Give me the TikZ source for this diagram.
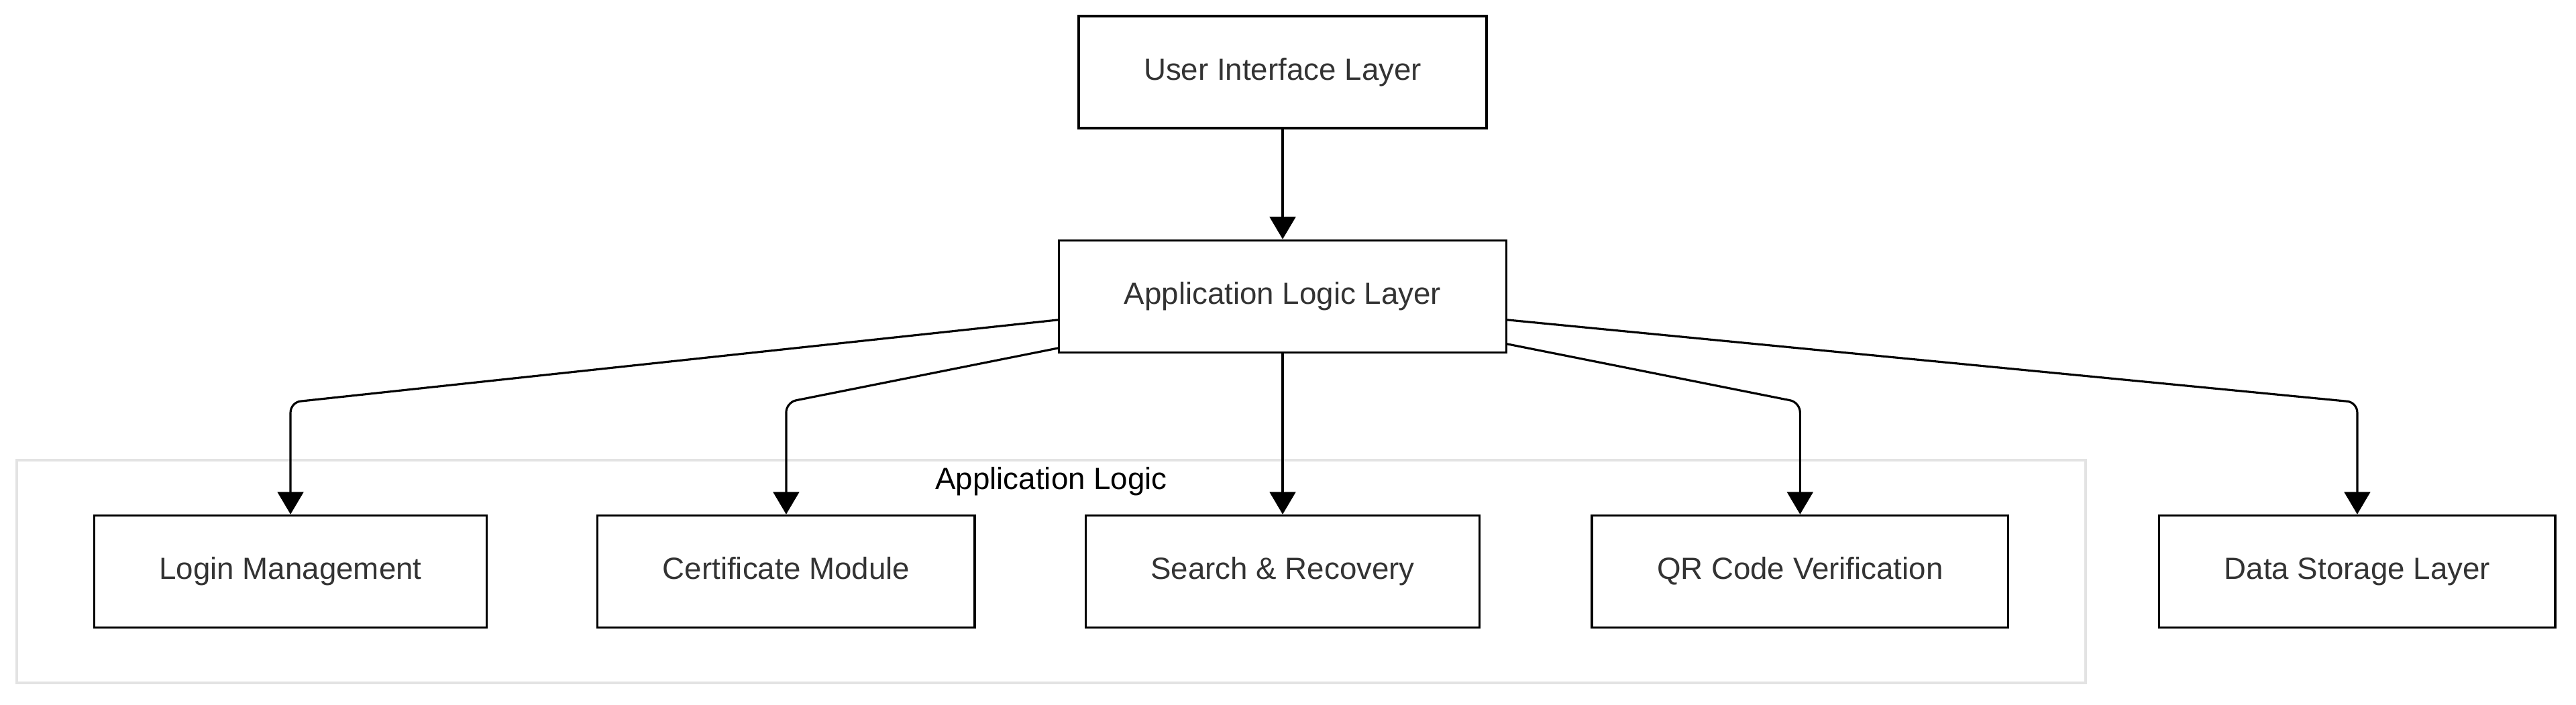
\documentclass[tikz,border=0pt]{standalone}
\usepackage{fontspec}
\setmainfont{Liberation Sans}
\usepackage{xcolor}
\usetikzlibrary{arrows.meta,positioning,fit,calc}
\definecolor{txtgray}{HTML}{333333}
\definecolor{grpline}{HTML}{E3E3E3}

\begin{document}
\begin{tikzpicture}[
  node distance=1.62cm,
  box/.style={draw, line width=0.9pt, inner xsep=0.97cm, minimum height=1.67cm,
              text height=9.5pt, text depth=2.8pt,
              font=\fontsize{13pt}{15pt}\selectfont, text=txtgray},
  grp/.style={draw=grpline, line width=1pt, inner xsep=1.14cm, inner ysep=0.81cm},
  grptitle/.style={font=\fontsize{13pt}{15pt}\selectfont},
  arr/.style={-{Triangle[length=9.5pt, width=11pt]}, line width=0.9pt,
              rounded corners=0.15cm}
]
  \useasboundingbox (0,0) rectangle (38.4,-10.5);

  \node[box] (ui) at (19.12,-1.075) {User Interface Layer};
  \node[box, below=1.64cm of ui]   (app)    {Application Logic Layer};
  \node[box, below=2.40cm of app]  (search) {Search \& Recovery};
  \node[box, left=of search]       (cert)   {Certificate Module};
  \node[box, left=of cert]         (login)  {Login Management};
  \node[box, right=1.64cm of search] (qr)   {QR Code Verification};
  \node[box, right=2.22cm of qr]   (store)  {Data Storage Layer};

  \node[grp, fit=(login)(qr)] (grp) {};
  \node[grptitle, below=0pt of grp.north] (grplbl) {Application Logic};
  \coordinate[above=1.67cm of search.north] (bend);

  \draw[arr] (ui) -- (app);
  \draw[arr] (app.186) -- (login |- bend) -- (login);
  \draw[arr] (app.193) -- (cert |- bend) -- (cert);
  \draw[arr] (app) -- (search);
  \draw[arr] (app.348) -- (qr |- bend) -- (qr);
  \draw[arr] (app.354) -- (store |- bend) -- (store);
\end{tikzpicture}
\end{document}
